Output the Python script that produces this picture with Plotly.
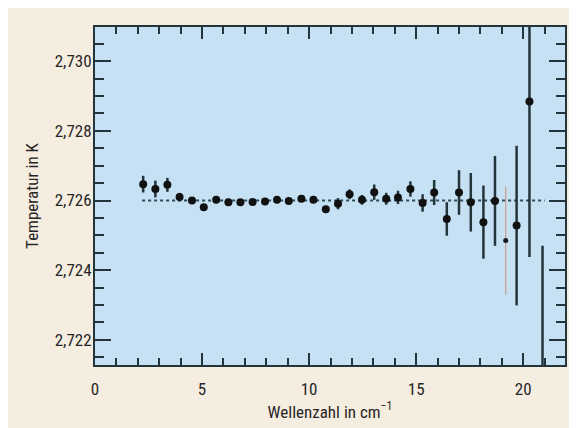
import plotly.graph_objects as go

# Wavenumber (cm^-1), temperature (K), and 1-sigma error (K)
wavenumber = [2.25, 2.82, 3.38, 3.95, 4.53, 5.08, 5.66, 6.23, 6.79, 7.36, 7.94, 8.50,
              9.05, 9.64, 10.20, 10.78, 11.35, 11.89, 12.47, 13.04, 13.60, 14.15,
              14.73, 15.30, 15.84, 16.43, 17.00, 17.55, 18.14, 18.68, 19.69, 20.29, 20.90]
temperature = [2.72647, 2.72633, 2.72645, 2.72610, 2.72600, 2.72581, 2.72602, 2.72595,
               2.72595, 2.72596, 2.72597, 2.72602, 2.72599, 2.72605, 2.72602, 2.72575,
               2.72591, 2.72618, 2.72602, 2.72624, 2.72605, 2.72609, 2.72633, 2.72593,
               2.72623, 2.72547, 2.72623, 2.72595, 2.72538, 2.72599, 2.72528, 2.72884,
               2.72050]
error = [0.00024, 0.00024, 0.00020, 0.00012, 0.00006, 0.00006, 0.00005, 0.00005,
         0.00005, 0.00005, 0.00005, 0.00005, 0.00005, 0.00006, 0.00006, 0.00006,
         0.00016, 0.00014, 0.00014, 0.00022, 0.00017, 0.00019, 0.00022, 0.00025,
         0.00036, 0.00048, 0.00064, 0.00084, 0.00105, 0.00129, 0.00229, 0.00446,
         0.00420]

# Separate (faint) measurement
faint_x = [19.18]
faint_t = [2.72485]
faint_err = [0.00155]

fit_x = [2.2, 21.0]
fit_t = [2.726, 2.726]

x_ticks = [0, 5, 10, 15, 20]
y_ticks = [2.722, 2.724, 2.726, 2.728, 2.730]

dark = "#23343b"
text_col = "#262626"
font = "Roboto Condensed, sans-serif"

fig = go.Figure()

fig.add_trace(go.Scatter(
    x=fit_x, y=fit_t, mode="lines",
    line=dict(color="#2e4a55", width=2, dash="dot"),
    showlegend=False, hoverinfo="skip"))

fig.add_trace(go.Scatter(
    x=faint_x, y=faint_t, mode="markers",
    marker=dict(color="#1a1a1a", size=5),
    error_y=dict(type="data", array=faint_err, color="#c9a08a", thickness=1.2, width=0),
    showlegend=False))

fig.add_trace(go.Scatter(
    x=wavenumber, y=temperature, mode="markers",
    marker=dict(color="#111111", size=8),
    error_y=dict(type="data", array=error, color=dark, thickness=2.5, width=0),
    showlegend=False))

axis_common = dict(
    showline=True, linecolor=dark, linewidth=2, mirror="allticks",
    ticks="inside", tickcolor=dark, tickwidth=2,
    showgrid=False, zeroline=False,
    tickfont=dict(family=font, size=17, color=text_col),
)

fig.update_xaxes(
    **axis_common,
    range=[0, 21.95], tickvals=x_ticks, ticklen=12, ticklabelstandoff=8,
    minor=dict(dtick=1, tick0=0, ticks="inside", ticklen=7, tickcolor=dark, tickwidth=2),
    title=dict(text="Wellenzahl in cm<sup>−1</sup>", font=dict(family=font, size=17, color=text_col),
               standoff=4),
)
fig.update_yaxes(
    **axis_common,
    range=[2.72128, 2.73098], tickvals=y_ticks, tickformat=".3f", ticklen=16, ticklabelstandoff=-2,
    minor=dict(dtick=0.0005, tick0=2.722, ticks="inside", ticklen=9, tickcolor=dark, tickwidth=2),
    title=dict(text="Temperatur in K", font=dict(family=font, size=17, color=text_col),
               standoff=12),
)

fig.update_layout(
    width=569, height=420,
    margin=dict(l=87, r=10, t=19, b=63),
    paper_bgcolor="#f6ede1", plot_bgcolor="#c6e1f4",
    separators=",.",
    font=dict(family=font),
)

fig.write_html("out.html")
